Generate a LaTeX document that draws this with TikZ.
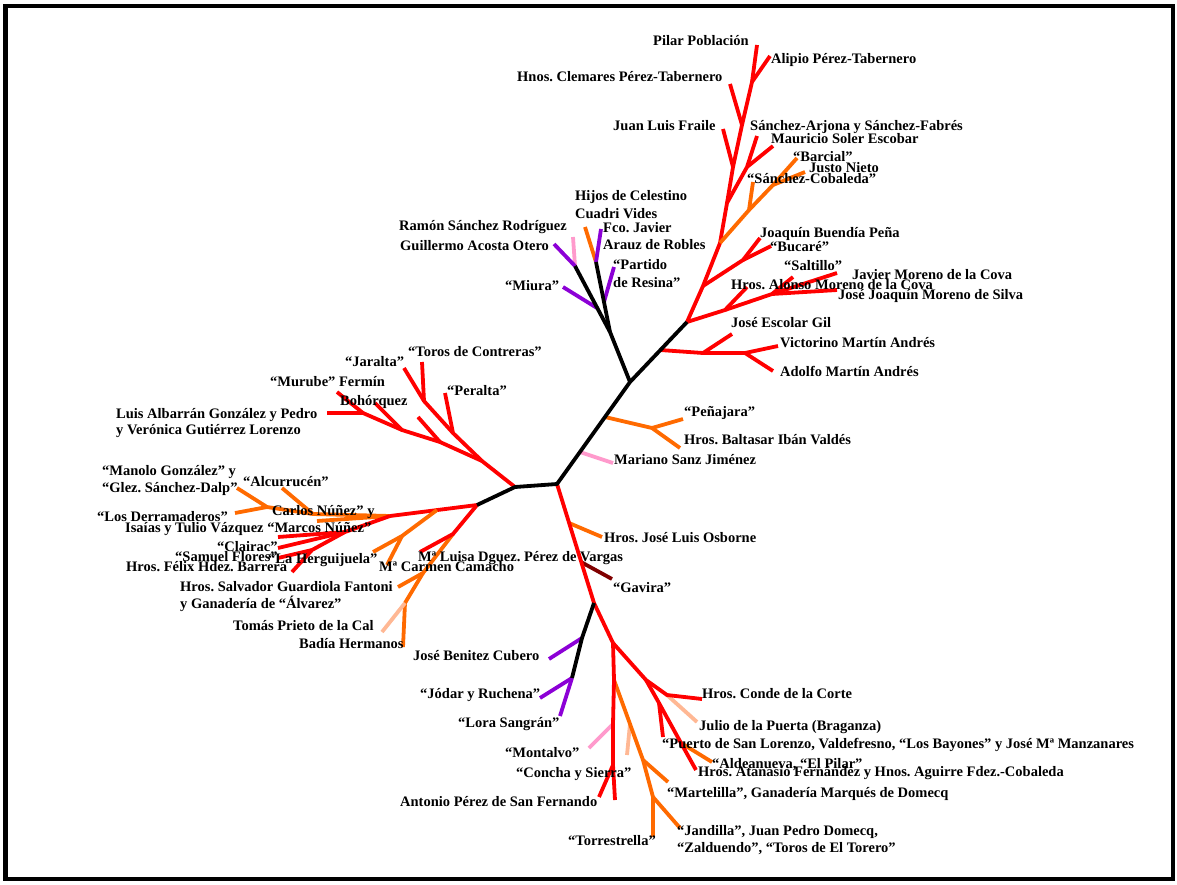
\documentclass[tikz,border=0pt]{standalone}
\usepackage{fontspec}
\setmainfont{Liberation Serif}
\frenchspacing
\definecolor{tred}{HTML}{FF0000}
\definecolor{torange}{HTML}{FF6A00}
\definecolor{tpurple}{HTML}{8C00D6}
\definecolor{tpink}{HTML}{FF9ACC}
\definecolor{tsalmon}{HTML}{FFB894}
\definecolor{tdark}{HTML}{800000}
\tikzset{
  br/.style={line width=3.8pt, line cap=butt, line join=round},
  lab/.style={anchor=west, inner sep=0pt, font=\fontsize{14.5}{16}\selectfont\bfseries\frenchspacing, text height=10pt, text depth=3pt},
}
\newcommand\lb[3]{\node[lab] (#1) at (#2) {#3};}
\begin{document}
\begin{tikzpicture}[x=1pt,y=-1pt]
\useasboundingbox (0,0) rectangle (1177,884);
\fill[white] (0,0) rectangle (1177,884);
\draw[line width=4.5pt] (5.5,6) rectangle (1173,879);
% ---------- coordinates ----------
\coordinate (c1) at (515,487);
\coordinate (c2) at (557,484);
\coordinate (c3) at (477,505);
\coordinate (c4) at (630,382);
\coordinate (c5) at (687,322);
\coordinate (c6) at (610,332);
\coordinate (c7) at (597,308);
\coordinate (c8) at (575,266);
\coordinate (c9) at (604,302);
\coordinate (c10) at (596,262);
\coordinate (p1) at (580,452);
\coordinate (o1) at (605,417);
\coordinate (miura) at (563,287);
\coordinate (ramon) at (573,237);
\coordinate (guill) at (554,244);
\coordinate (partido) at (614,267);
\coordinate (hijos) at (585,227);
\coordinate (fco) at (601,229);
\coordinate (mariano) at (613,463);
\coordinate (oj) at (652,428);
\coordinate (penaj) at (683,419);
\coordinate (balt) at (680,448);
\coordinate (e0) at (660,350);
\coordinate (e1) at (703,353);
\coordinate (e2) at (745,353);
\coordinate (vict) at (778,346);
\coordinate (adolfo) at (773,371);
\coordinate (escolar) at (732,334);
\coordinate (r1) at (703,286);
\coordinate (r2) at (720,243);
\coordinate (r3) at (727,203);
\coordinate (r4) at (733,167);
\coordinate (r5) at (742,125);
\coordinate (r6) at (752,82);
\coordinate (pilar) at (757,45);
\coordinate (alipio) at (770,56);
\coordinate (clem) at (730,84);
\coordinate (fraile) at (723,129);
\coordinate (sa) at (747,167);
\coordinate (sarj) at (757,136);
\coordinate (soler) at (773,146);
\coordinate (oa) at (749,210);
\coordinate (cobal) at (753,182);
\coordinate (ob) at (773,185);
\coordinate (barc) at (797,158);
\coordinate (justo) at (805,172);
\coordinate (rb) at (743,260);
\coordinate (joaq) at (760,238);
\coordinate (bucare) at (771,246);
\coordinate (m1) at (725,310);
\coordinate (alonso) at (747,287);
\coordinate (m2) at (772,294);
\coordinate (saltillo) at (793,277);
\coordinate (jmc) at (837,273);
\coordinate (jjm) at (837,290);
\coordinate (l1) at (482,461);
\coordinate (l2) at (440,442);
\coordinate (l3) at (402,430);
\coordinate (l4) at (363,413);
\coordinate (albarran) at (327,413);
\coordinate (murube) at (337,392);
\coordinate (fermin) at (375,403);
\coordinate (lx) at (418,417);
\coordinate (l5) at (453,433);
\coordinate (peralta) at (445,393);
\coordinate (l6) at (424,401);
\coordinate (jaralta) at (404,368);
\coordinate (toros) at (422,362);
\coordinate (k1) at (390,516);
\coordinate (k2) at (313,514);
\coordinate (k3) at (267,507);
\coordinate (glez) at (237,488);
\coordinate (derr) at (235,513);
\coordinate (alcu) at (282,488);
\coordinate (carlos) at (317,521);
\coordinate (k4) at (345,532);
\coordinate (isaias) at (278,537);
\coordinate (clairac) at (278,548);
\coordinate (k5) at (312,550);
\coordinate (felix) at (292,572);
\coordinate (samuel) at (278,558);
\coordinate (kx) at (437,510);
\coordinate (k9) at (402,536);
\coordinate (herg) at (373,552);
\coordinate (camacho) at (387,565);
\coordinate (k6) at (453,534);
\coordinate (luisa) at (420,552);
\coordinate (k7) at (423,573);
\coordinate (salv) at (398,587);
\coordinate (k8) at (405,603);
\coordinate (badia) at (403,647);
\coordinate (tomas) at (382,632);
\coordinate (g1) at (594,603);
\coordinate (osb0) at (569,523);
\coordinate (osborne) at (602,537);
\coordinate (gav0) at (581,562);
\coordinate (gavira) at (612,579);
\coordinate (b1) at (582,638);
\coordinate (b2) at (572,678);
\coordinate (benitez) at (549,659);
\coordinate (jodar) at (540,698);
\coordinate (lora) at (560,716);
\coordinate (g2) at (613,643);
\coordinate (g3) at (614,680);
\coordinate (g4) at (613,724);
\coordinate (g5) at (613,765);
\coordinate (antonio) at (599,797);
\coordinate (concha) at (615,800);
\coordinate (montalvo) at (589,748);
\coordinate (g3a) at (630,724);
\coordinate (g6) at (643,760);
\coordinate (g7) at (653,797);
\coordinate (torre) at (653,837);
\coordinate (jandilla) at (680,828);
\coordinate (martel) at (668,782);
\coordinate (sal2) at (627,755);
\coordinate (h1) at (646,680);
\coordinate (h2) at (667,695);
\coordinate (conde) at (702,699);
\coordinate (julio) at (697,722);
\coordinate (h3) at (659,703);
\coordinate (puerto) at (663,737);
\coordinate (h4) at (681,743);
\coordinate (atan) at (696,770);
\coordinate (aldea) at (712,762);
% ---------- branches ----------
\draw[br,tpurple] (c7) -- (miura);
\draw[br,tpink] (c8) -- (ramon);
\draw[br,tpurple] (c8) -- (guill);
\draw[br,tpurple] (c9) -- (partido);
\draw[br,torange] (c10) -- (hijos);
\draw[br,tpurple] (c10) -- (fco);
\draw[br] (c4) -- (c6) -- (c8);
\draw[br] (c6) -- (c10);
\draw[br,torange] (o1) -- (oj) -- (penaj);
\draw[br,torange] (oj) -- (balt);
\draw[br,tpink] (p1) -- (mariano);
\draw[br,tred] (e0) -- (e1) -- (e2) -- (vict);
\draw[br,tred] (e2) -- (adolfo);
\draw[br,tred] (e1) -- (escolar);
\draw[br,tred] (c5) -- (r1) -- (r2) -- (r3) -- (r4) -- (r5) -- (r6) -- (pilar);
\draw[br,tred] (r6) -- (alipio);
\draw[br,tred] (r5) -- (clem);
\draw[br,tred] (r4) -- (fraile);
\draw[br,tred] (r3) -- (sa) -- (sarj);
\draw[br,tred] (sa) -- (soler);
\draw[br,torange] (r2) -- (oa) -- (cobal);
\draw[br,torange] (oa) -- (ob) -- (barc);
\draw[br,torange] (ob) -- (justo);
\draw[br,tred] (r1) -- (rb) -- (joaq);
\draw[br,tred] (rb) -- (bucare);
\draw[br,tred] (c5) -- (m1) -- (alonso);
\draw[br,tred] (m1) -- (m2) -- (saltillo);
\draw[br,tred] (m2) -- (jmc);
\draw[br,tred] (m2) -- (jjm);
\draw[br,tred] (c1) -- (l1) -- (l2) -- (l3) -- (l4) -- (albarran);
\draw[br,tred] (l4) -- (murube);
\draw[br,tred] (l3) -- (fermin);
\draw[br,tred] (l2) -- (lx);
\draw[br,tred] (l1) -- (l5) -- (peralta);
\draw[br,tred] (l5) -- (l6) -- (jaralta);
\draw[br,tred] (l6) -- (toros);
\draw[br,torange] (k1) -- (k2) -- (k3) -- (glez);
\draw[br,torange] (k3) -- (derr);
\draw[br,torange] (k2) -- (alcu);
\draw[br,torange] (k1) -- (carlos);
\draw[br,tred] (c3) -- (k1);
\draw[br,tred] (k1) -- (k4) -- (isaias);
\draw[br,tred] (k4) -- (clairac);
\draw[br,tred] (k4) -- (k5) -- (felix);
\draw[br,tred] (k5) -- (samuel);
\draw[br,torange] (kx) -- (k9) -- (herg);
\draw[br,torange] (k9) -- (camacho);
\draw[br,torange] (k6) -- (k7) -- (salv);
\draw[br,torange] (k7) -- (k8) -- (badia);
\draw[br,tsalmon] (k8) -- (tomas);
\draw[br,tred] (c3) -- (k6) -- (luisa);
\draw[br,torange] (osb0) -- (osborne);
\draw[br,tdark] (gav0) -- (gavira);
\draw[br,tred] (c2) -- (g1) -- (g2);
\draw[br,tpurple] (b1) -- (benitez);
\draw[br,tpurple] (b2) -- (jodar);
\draw[br,tpurple] (b2) -- (lora);
\draw[br] (g1) -- (b1) -- (b2);
\draw[br,tpink] (g4) -- (montalvo);
\draw[br,tsalmon] (g3a) -- (sal2);
\draw[br,torange] (g3) -- (g3a) -- (g6) -- (g7) -- (torre);
\draw[br,torange] (g7) -- (jandilla);
\draw[br,torange] (g6) -- (martel);
\draw[br,tred] (g2) -- (g3) -- (g4) -- (g5) -- (antonio);
\draw[br,tred] (g5) -- (concha);
\draw[br,tsalmon] (h2) -- (julio);
\draw[br,tred] (g2) -- (h1) -- (h2) -- (conde);
\draw[br,torange] (h4) -- (aldea);
\draw[br,tred] (h1) -- (h3) -- (h4) -- (atan);
\draw[br,tred] (h3) -- (puerto);
\draw[br] (c3) -- (c1) -- (c2) -- (c4) -- (c5);
% ---------- labels ----------
\lb{t1}{653,42}{Pilar Población}
\lb{t2}{771,60}{Alipio Pérez-Tabernero}
\lb{t3}{517,78}{Hnos. Clemares Pérez-Tabernero}
\lb{t4}{613,127}{Juan Luis Fraile}
\lb{t5}{750,127}{Sánchez-Arjona y Sánchez-Fabrés}
\lb{t6}{771,140}{Mauricio Soler Escobar}
\lb{t7}{793,158}{“Barcial”}
\lb{t8}{809,169}{Justo Nieto}
\lb{t9}{747,180}{“Sánchez-Cobaleda”}
\lb{t10}{575,197}{Hijos de Celestino}
\lb{t11}{575,215}{Cuadri Vides}
\lb{t12}{399,227}{Ramón Sánchez Rodríguez}
\lb{t13}{400,247}{Guillermo Acosta Otero}
\lb{t14}{603,229}{Fco. Javier}
\lb{t15}{603,246}{Arauz de Robles}
\lb{t16}{760,234}{Joaquín Buendía Peña}
\lb{t17}{770,248}{“Bucaré”}
\lb{t18}{613,266}{“Partido}
\lb{t19}{613,284}{de Resina”}
\lb{t20}{784,267}{“Saltillo”}
\lb{t21}{852,276}{Javier Moreno de la Cova}
\lb{t22}{731,286}{Hros. Alonso Moreno de la Cova}
\lb{t23}{505,287}{“Miura”}
\lb{t24}{838,296}{José Joaquín Moreno de Silva}
\lb{t25}{731,324}{José Escolar Gil}
\lb{t26}{780,344}{Victorino Martín Andrés}
\lb{t27}{408,353}{“Toros de Contreras”}
\lb{t28}{345,363}{“Jaralta”}
\lb{t29}{780,373}{Adolfo Martín Andrés}
\lb{t30}{270,383}{“Murube” Fermín}
\lb{t31}{447,392}{“Peralta”}
\lb{t32}{340,402}{Bohórquez}
\lb{t33}{116,415}{Luis Albarrán González y Pedro}
\lb{t34}{116,431}{y Verónica Gutiérrez Lorenzo}
\lb{t35}{684,413}{“Peñajara”}
\lb{t36}{684,441}{Hros. Baltasar Ibán Valdés}
\lb{t37}{614,461}{Mariano Sanz Jiménez}
\lb{t38}{102,472}{“Manolo González” y}
\lb{t39}{243,483}{“Alcurrucén”}
\lb{t40}{102,489}{“Glez. Sánchez-Dalp”}
\lb{t41}{272,512}{Carlos Núñez” y}
\lb{t42}{97,518}{“Los Derramaderos”}
\lb{t43}{125,529}{Isaías y Tulio Vázquez “Marcos Núñez”}
\lb{t44}{604,539}{Hros. José Luis Osborne}
\lb{t45}{217,548}{“Clairac”}
\lb{t46}{175,558}{“Samuel Flores”}
\lb{t47}{268,560}{“La Herguijuela”}
\lb{t48}{418,558}{Mª Luisa Dguez. Pérez de Vargas}
\lb{t49}{126,568}{Hros. Félix Hdez. Barrera}
\lb{t50}{379,568}{Mª Carmen Camacho}
\lb{t51}{180,588}{Hros. Salvador Guardiola Fantoni}
\lb{t52}{613,589}{“Gavira”}
\lb{t53}{180,605}{y Ganadería de “Álvarez”}
\lb{t54}{233,627}{Tomás Prieto de la Cal}
\lb{t55}{299,645}{Badía Hermanos}
\lb{t56}{413,657}{José Benitez Cubero}
\lb{t57}{420,695}{“Jódar y Ruchena”}
\lb{t58}{702,695}{Hros. Conde de la Corte}
\lb{t59}{458,724}{“Lora Sangrán”}
\lb{t60}{699,727}{Julio de la Puerta (Braganza)}
\lb{t61}{662,745}{“Puerto de San Lorenzo, Valdefresno, “Los Bayones” y José Mª Manzanares}
\lb{t62}{505,754}{“Montalvo”}
\lb{t63}{712,765}{“Aldeanueva, “El Pilar”}
\lb{t64}{698,773}{Hros. Atanasio Fernández y Hnos. Aguirre Fdez.-Cobaleda}
\lb{t65}{516,774}{“Concha y Sierra”}
\lb{t66}{667,794}{“Martelilla”, Ganadería Marqués de Domecq}
\lb{t67}{400,803}{Antonio Pérez de San Fernando}
\lb{t68}{677,832}{“Jandilla”, Juan Pedro Domecq,}
\lb{t69}{568,842}{“Torrestrella”}
\lb{t70}{677,849}{“Zalduendo”, “Toros de El Torero”}
\end{tikzpicture}
\end{document}
